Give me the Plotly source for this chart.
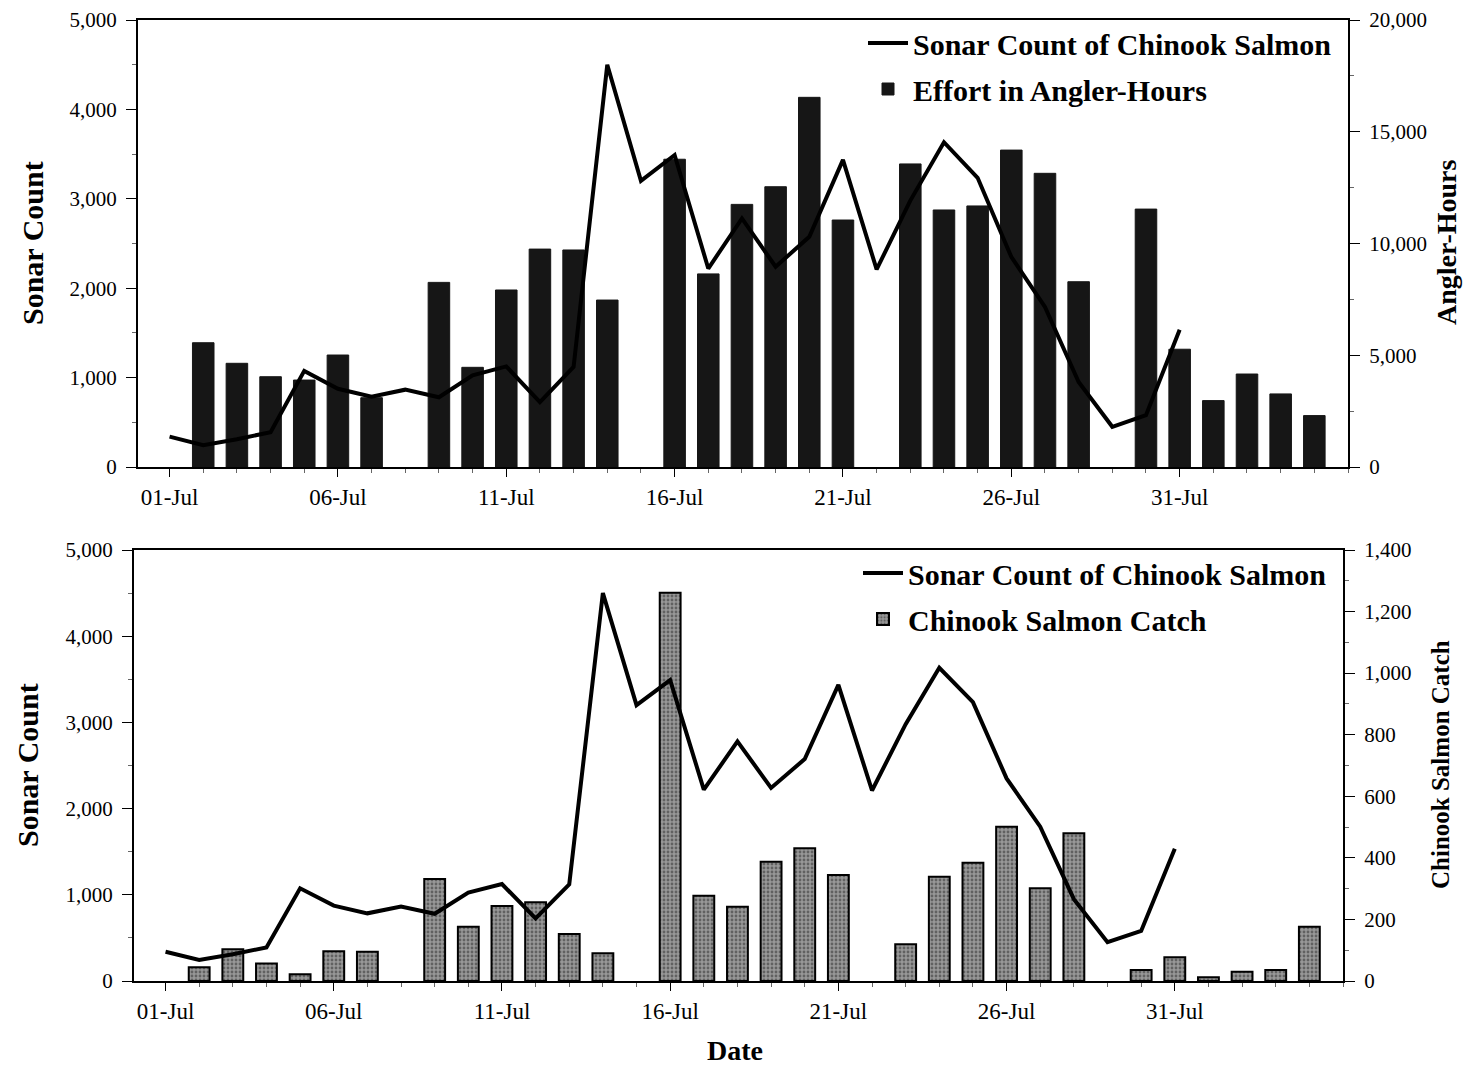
import plotly.graph_objects as go

# ---------------- data ----------------
dates = [
    "2000-07-01", "2000-07-02", "2000-07-03", "2000-07-04", "2000-07-05",
    "2000-07-06", "2000-07-07", "2000-07-08", "2000-07-09", "2000-07-10",
    "2000-07-11", "2000-07-12", "2000-07-13", "2000-07-14", "2000-07-15",
    "2000-07-16", "2000-07-17", "2000-07-18", "2000-07-19", "2000-07-20",
    "2000-07-21", "2000-07-22", "2000-07-23", "2000-07-24", "2000-07-25",
    "2000-07-26", "2000-07-27", "2000-07-28", "2000-07-29", "2000-07-30",
    "2000-07-31", "2000-08-01", "2000-08-02", "2000-08-03", "2000-08-04",
]

sonar_count = [
    340, 245, 310, 390, 1075, 875, 785, 865, 780, 1025,
    1125, 725, 1120, 4500, 3200, 3490, 2220, 2780, 2240, 2575,
    3435, 2210, 2980, 3633, 3235, 2350, 1790, 950, 450, 580,
    1535, None, None, None, None,
]

effort_angler_hours = [
    None, 5560, 4640, 4040, 3890, 5010, 3100, None, 8260, 4460,
    7920, 9750, 9710, 7470, None, 13770, 8640, 11750, 12540, 16540,
    11050, None, 13560, 11500, 11680, 14180, 13140, 8290, None, 11540,
    5270, 2970, 4160, 3270, 2300,
]

chinook_catch = [
    None, 45, 103, 57, 22, 97, 95, None, 331, 176,
    244, 256, 153, 90, None, 1261, 277, 241, 387, 431,
    344, None, 119, 339, 384, 501, 301, 480, None, 36,
    77, 12, 30, 36, 176,
]

tick_dates = ["2000-07-01", "2000-07-06", "2000-07-11", "2000-07-16",
              "2000-07-21", "2000-07-26", "2000-07-31"]
tick_labels = ["01-Jul", "06-Jul", "11-Jul", "16-Jul", "21-Jul", "26-Jul",
               "31-Jul"]

x_range = ["2000-06-30 01:30", "2000-08-05 00:00"]
DAY = 86400000

SERIF = "Liberation Serif, Times New Roman, serif"

fig = go.Figure()

# ---------- top panel ----------
fig.add_trace(go.Bar(
    x=dates, y=effort_angler_hours, name="Effort in Angler-Hours",
    xaxis="x", yaxis="y", width=0.64 * DAY,
    marker=dict(color="#161616", line=dict(color="#161616", width=1)),
    legend="legend", legendrank=2, legendgroup="effort",
))
fig.add_trace(go.Scatter(
    x=dates, y=sonar_count, name="Sonar Count of Chinook Salmon",
    xaxis="x", yaxis="y2", mode="lines",
    line=dict(color="black", width=4),
    legend="legend", legendrank=1, connectgaps=False, legendgroup="sonar1",
))

# ---------- bottom panel ----------
fig.add_trace(go.Bar(
    x=dates, y=chinook_catch, name="Chinook Salmon Catch",
    xaxis="x2", yaxis="y3", width=0.62 * DAY,
    marker=dict(color="#8a8a8a", line=dict(color="black", width=2),
                pattern=dict(shape=".", fgcolor="#2a2a2a", bgcolor="#989898",
                             size=4, solidity=0.4)),
    legend="legend2", legendrank=2, legendgroup="catch",
))
fig.add_trace(go.Scatter(
    x=dates, y=sonar_count, name="Sonar Count of Chinook Salmon",
    xaxis="x2", yaxis="y4", mode="lines",
    line=dict(color="black", width=4),
    legend="legend2", legendrank=1, connectgaps=False, legendgroup="sonar2",
))

W, H = 1468, 1067


def px_x(p):
    return p / W


def px_y(p):
    return (H - p) / H


xcommon = dict(
    type="date", range=x_range, tickvals=tick_dates, ticktext=tick_labels,
    ticks="outside", ticklen=8, tickwidth=1,
    tickcolor="black", showline=True, linecolor="black", linewidth=2,
    mirror=True, showgrid=False, zeroline=False,
    tickfont=dict(family=SERIF, size=23, color="black"),
    ticklabelstandoff=0,
    minor=dict(tick0="2000-07-01", dtick=DAY, ticks="outside", ticklen=4,
               tickcolor="#666", showgrid=False),
    automargin=False,
)

ycommon = dict(
    showline=True, linecolor="black", linewidth=2, showgrid=False,
    zeroline=False, ticks="outside", ticklen=10, tickwidth=1,
    tickcolor="black", tickformat=",",
    tickfont=dict(family=SERIF, size=21, color="black"),
    automargin=False, ticklabelstandoff=5,
)

legend_font = dict(family=SERIF, size=30, color="black", weight="bold")

fig.update_layout(
    width=W, height=H,
    margin=dict(l=0, r=0, t=0, b=0),
    paper_bgcolor="white", plot_bgcolor="white",
    font=dict(family=SERIF, color="black"),
    barmode="overlay",
    xaxis=dict(domain=[px_x(138), px_x(1348)], anchor="y", **xcommon),
    xaxis2=dict(domain=[px_x(134), px_x(1343)], anchor="y3", **xcommon),
    yaxis=dict(domain=[px_y(467), px_y(20)], anchor="x", side="right",
               range=[0, 20000], dtick=5000,
               minor=dict(dtick=2500, ticks="outside", ticklen=4,
                          tickcolor="#666"),
               **ycommon),
    yaxis2=dict(overlaying="y", anchor="x", side="left",
                range=[0, 5000], dtick=1000,
                minor=dict(dtick=500, ticks="outside", ticklen=4,
                           tickcolor="#666"),
                **ycommon),
    yaxis3=dict(domain=[px_y(981), px_y(550)], anchor="x2", side="right",
                range=[0, 1400], dtick=200,
                minor=dict(dtick=100, ticks="outside", ticklen=4,
                           tickcolor="#666"),
                **ycommon),
    yaxis4=dict(overlaying="y3", anchor="x2", side="left",
                range=[0, 5000], dtick=1000,
                minor=dict(dtick=500, ticks="outside", ticklen=4,
                           tickcolor="#666"),
                **ycommon),
    legend=dict(x=px_x(863), y=px_y(17), xanchor="left", yanchor="top",
                bgcolor="rgba(0,0,0,0)", itemwidth=40,
                font=legend_font, tracegroupgap=4),
    legend2=dict(x=px_x(858), y=px_y(547), xanchor="left", yanchor="top",
                 bgcolor="rgba(0,0,0,0)", itemwidth=40,
                 font=legend_font, tracegroupgap=4),
    showlegend=True,
)

title_font = dict(family=SERIF, color="black", weight="bold")
annotations = [
    dict(text="Sonar Count", x=px_x(33), y=px_y(243), textangle=-90,
         font=dict(size=30, **title_font)),
    dict(text="Sonar Count", x=px_x(27), y=px_y(765), textangle=-90,
         font=dict(size=30, **title_font)),
    dict(text="Angler-Hours", x=px_x(1447), y=px_y(243), textangle=-90,
         font=dict(size=28, **title_font)),
    dict(text="Chinook Salmon Catch", x=px_x(1440), y=px_y(765),
         textangle=-90, font=dict(size=25, **title_font)),
    dict(text="Date", x=px_x(735), y=px_y(1050),
         font=dict(size=28, **title_font)),
]
for a in annotations:
    a.update(xref="paper", yref="paper", showarrow=False,
             xanchor="center", yanchor="middle")
fig.update_layout(annotations=annotations)

fig.write_html("out.html", config={"displayModeBar": False},
               post_script="document.body.style.margin='0';")
